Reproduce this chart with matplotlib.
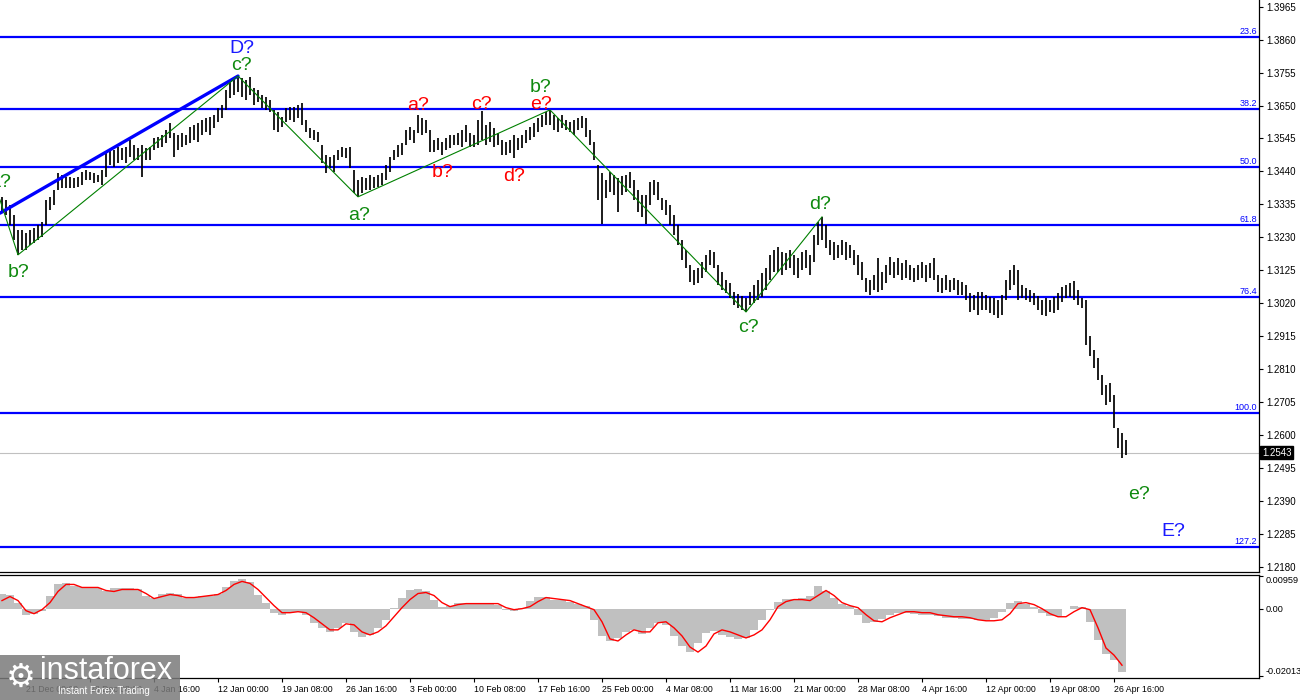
import numpy as np
import matplotlib.pyplot as plt
from matplotlib.patches import Rectangle
from matplotlib.transforms import blended_transform_factory

plt.rcParams['font.family'] = ['Liberation Sans', 'DejaVu Sans']

# H4 bars, highs and lows (one bar per 4 px)
bar_high = [
    1.3359, 1.3349, 1.3333, 1.3301, 1.3253, 1.3253, 1.3244, 1.3253, 1.3260, 1.3269,
    1.3279, 1.3349, 1.3359, 1.3381, 1.3435, 1.3429, 1.3422, 1.3422, 1.3419, 1.3422,
    1.3438, 1.3445, 1.3438, 1.3435, 1.3429, 1.3445, 1.3499, 1.3508, 1.3508, 1.3518,
    1.3515, 1.3518, 1.3540, 1.3524, 1.3515, 1.3524, 1.3515, 1.3518, 1.3547, 1.3550,
    1.3556, 1.3572, 1.3594, 1.3563, 1.3556, 1.3563, 1.3556, 1.3582, 1.3588, 1.3594,
    1.3604, 1.3610, 1.3614, 1.3620, 1.3642, 1.3652, 1.3700, 1.3725, 1.3738, 1.3744,
    1.3738, 1.3731, 1.3741, 1.3706, 1.3700, 1.3684, 1.3677, 1.3668, 1.3636, 1.3629,
    1.3614, 1.3642, 1.3645, 1.3645, 1.3652, 1.3658, 1.3604, 1.3579, 1.3572, 1.3566,
    1.3524, 1.3492, 1.3486, 1.3492, 1.3508, 1.3518, 1.3515, 1.3518, 1.3445, 1.3413,
    1.3422, 1.3419, 1.3429, 1.3422, 1.3429, 1.3435, 1.3460, 1.3486, 1.3508, 1.3524,
    1.3531, 1.3572, 1.3582, 1.3572, 1.3620, 1.3610, 1.3604, 1.3572, 1.3540, 1.3547,
    1.3534, 1.3547, 1.3556, 1.3556, 1.3563, 1.3572, 1.3588, 1.3563, 1.3556, 1.3604,
    1.3632, 1.3588, 1.3598, 1.3579, 1.3563, 1.3540, 1.3534, 1.3540, 1.3556, 1.3547,
    1.3556, 1.3572, 1.3582, 1.3594, 1.3610, 1.3620, 1.3629, 1.3636, 1.3620, 1.3610,
    1.3620, 1.3604, 1.3598, 1.3604, 1.3610, 1.3617, 1.3610, 1.3572, 1.3534, 1.3460,
    1.3435, 1.3413, 1.3438, 1.3429, 1.3419, 1.3425, 1.3429, 1.3438, 1.3413, 1.3381,
    1.3365, 1.3365, 1.3406, 1.3413, 1.3406, 1.3355, 1.3349, 1.3333, 1.3301, 1.3269,
    1.3221, 1.3190, 1.3142, 1.3126, 1.3132, 1.3151, 1.3174, 1.3190, 1.3183, 1.3142,
    1.3119, 1.3094, 1.3084, 1.3056, 1.3049, 1.3043, 1.3036, 1.3056, 1.3078, 1.3094,
    1.3116, 1.3132, 1.3174, 1.3190, 1.3199, 1.3183, 1.3180, 1.3190, 1.3174, 1.3164,
    1.3183, 1.3190, 1.3174, 1.3237, 1.3279, 1.3295, 1.3269, 1.3221, 1.3215, 1.3205,
    1.3221, 1.3215, 1.3205, 1.3190, 1.3174, 1.3151, 1.3100, 1.3094, 1.3110, 1.3164,
    1.3119, 1.3142, 1.3167, 1.3151, 1.3164, 1.3148, 1.3158, 1.3142, 1.3132, 1.3142,
    1.3151, 1.3142, 1.3148, 1.3164, 1.3110, 1.3100, 1.3110, 1.3094, 1.3100, 1.3094,
    1.3088, 1.3078, 1.3052, 1.3046, 1.3056, 1.3056, 1.3046, 1.3040, 1.3036, 1.3030,
    1.3046, 1.3094, 1.3126, 1.3142, 1.3126, 1.3078, 1.3068, 1.3062, 1.3052, 1.3043,
    1.3030, 1.3036, 1.3030, 1.3040, 1.3052, 1.3072, 1.3078, 1.3084, 1.3091, 1.3062,
    1.3036, 1.3030, 1.2915, 1.2871, 1.2845, 1.2791, 1.2759, 1.2766, 1.2727, 1.2622,
    1.2606, 1.2584,
]
bar_low = [
    1.3311, 1.3301, 1.3269, 1.3221, 1.3174, 1.3190, 1.3190, 1.3205, 1.3212, 1.3221,
    1.3231, 1.3269, 1.3317, 1.3333, 1.3381, 1.3387, 1.3387, 1.3387, 1.3387, 1.3390,
    1.3397, 1.3413, 1.3413, 1.3403, 1.3406, 1.3397, 1.3422, 1.3460, 1.3454, 1.3467,
    1.3476, 1.3467, 1.3486, 1.3476, 1.3476, 1.3422, 1.3476, 1.3476, 1.3508, 1.3515,
    1.3518, 1.3531, 1.3547, 1.3486, 1.3508, 1.3518, 1.3524, 1.3531, 1.3540, 1.3534,
    1.3556, 1.3566, 1.3556, 1.3579, 1.3598, 1.3610, 1.3636, 1.3674, 1.3684, 1.3693,
    1.3677, 1.3668, 1.3684, 1.3652, 1.3661, 1.3642, 1.3636, 1.3629, 1.3572, 1.3566,
    1.3582, 1.3598, 1.3604, 1.3598, 1.3610, 1.3588, 1.3566, 1.3547, 1.3540, 1.3534,
    1.3467, 1.3435, 1.3451, 1.3438, 1.3476, 1.3486, 1.3483, 1.3451, 1.3371, 1.3359,
    1.3371, 1.3381, 1.3381, 1.3387, 1.3390, 1.3397, 1.3413, 1.3438, 1.3476, 1.3486,
    1.3492, 1.3524, 1.3540, 1.3531, 1.3563, 1.3556, 1.3563, 1.3502, 1.3502, 1.3508,
    1.3492, 1.3508, 1.3515, 1.3524, 1.3524, 1.3518, 1.3534, 1.3518, 1.3518, 1.3524,
    1.3540, 1.3524, 1.3534, 1.3518, 1.3524, 1.3492, 1.3492, 1.3499, 1.3483, 1.3508,
    1.3515, 1.3531, 1.3540, 1.3550, 1.3566, 1.3582, 1.3588, 1.3588, 1.3572, 1.3566,
    1.3579, 1.3572, 1.3566, 1.3556, 1.3572, 1.3579, 1.3550, 1.3524, 1.3476, 1.3349,
    1.3272, 1.3355, 1.3374, 1.3365, 1.3311, 1.3365, 1.3374, 1.3387, 1.3349, 1.3311,
    1.3295, 1.3272, 1.3333, 1.3365, 1.3349, 1.3317, 1.3301, 1.3269, 1.3237, 1.3205,
    1.3158, 1.3132, 1.3088, 1.3078, 1.3084, 1.3100, 1.3119, 1.3142, 1.3132, 1.3078,
    1.3062, 1.3052, 1.3036, 1.3014, 1.3005, 1.2998, 1.2992, 1.3014, 1.3021, 1.3030,
    1.3040, 1.3062, 1.3094, 1.3119, 1.3119, 1.3110, 1.3126, 1.3132, 1.3110, 1.3100,
    1.3126, 1.3132, 1.3110, 1.3151, 1.3205, 1.3221, 1.3196, 1.3174, 1.3158, 1.3164,
    1.3174, 1.3158, 1.3164, 1.3142, 1.3110, 1.3094, 1.3056, 1.3046, 1.3062, 1.3056,
    1.3062, 1.3084, 1.3110, 1.3100, 1.3110, 1.3094, 1.3100, 1.3094, 1.3088, 1.3094,
    1.3100, 1.3088, 1.3100, 1.3094, 1.3056, 1.3052, 1.3062, 1.3056, 1.3062, 1.3046,
    1.3046, 1.3030, 1.2992, 1.2998, 1.2982, 1.2998, 1.2998, 1.2989, 1.2982, 1.2973,
    1.2982, 1.3030, 1.3062, 1.3078, 1.3030, 1.3036, 1.3030, 1.3024, 1.3014, 1.2998,
    1.2982, 1.2979, 1.2992, 1.2989, 1.2998, 1.3024, 1.3036, 1.3040, 1.3030, 1.3014,
    1.3005, 1.2887, 1.2852, 1.2813, 1.2775, 1.2727, 1.2695, 1.2705, 1.2622, 1.2558,
    1.2527, 1.2536,
]
last_price = 1.2543

# fibo grid
fib_labels = ["23.6", "38.2", "50.0", "61.8", "76.4", "100.0", "127.2"]
fib_prices = [1.3867, 1.3638, 1.3453, 1.3268, 1.3039, 1.2669, 1.2242]

# wave marking (bar index, price)
trend_idx = [-0.5, 59]
trend_px = [1.3307, 1.3744]
wave_idx = [-0.5, 4, 59, 89, 137, 186, 205]
wave_px = [1.3349, 1.3174, 1.3744, 1.3359, 1.3636, 1.2992, 1.3295]

BLUE = '#1a1aff'
GREEN = '#0f8a0f'
RED = '#ff0000'
wave_text = ["D?", "c?", "a?", "b?", "a?", "a?", "b?", "c?", "d?", "e?", "b?",
             "c?", "d?", "e?", "E?"]
wave_text_idx = [60, 59.75, -0.5, 4.25, 89.25, 104, 110.25, 119.75, 128,
                 134.75, 134.75, 186.5, 204.5, 284.25, 292.75]
wave_text_px = [1.3833, 1.3779, 1.3406, 1.3119, 1.3301, 1.3649, 1.3438, 1.3652,
                1.3425, 1.3652, 1.3709, 1.2944, 1.3333, 1.2409, 1.2291]
wave_text_col = [BLUE, GREEN, GREEN, GREEN, GREEN, RED, RED, RED, RED, RED,
                 GREEN, GREEN, GREEN, GREEN, BLUE]

price_ticks = [1.3965, 1.3860, 1.3755, 1.3650, 1.3545, 1.3440, 1.3335, 1.3230,
               1.3125, 1.3020, 1.2915, 1.2810, 1.2705, 1.2600, 1.2495, 1.2390,
               1.2285, 1.2180]

# MACD histogram and signal, one value per 2 bars
macd_hist = [
    0.0045, 0.0042, 0.0018, -0.0018, -0.0015, -0.0006, 0.0039, 0.0072, 0.0075, 0.0066,
    0.0063, 0.0063, 0.0060, 0.0051, 0.0060, 0.0060, 0.0060, 0.0057, 0.0039, 0.0033,
    0.0045, 0.0048, 0.0045, 0.0033, 0.0036, 0.0039, 0.0039, 0.0045, 0.0063, 0.0081,
    0.0087, 0.0078, 0.0042, 0.0018, -0.0012, -0.0018, -0.0009, -0.0009, -0.0018, -0.0042,
    -0.0057, -0.0069, -0.0057, -0.0042, -0.0069, -0.0084, -0.0078, -0.0057, -0.0033, 0.0003,
    0.0033, 0.0054, 0.0057, 0.0051, 0.0027, 0.0006, 0.0009, 0.0018, 0.0018, 0.0018,
    0.0018, 0.0018, 0.0012, -0.0003, -0.0006, 0.0003, 0.0024, 0.0036, 0.0036, 0.0027,
    0.0027, 0.0021, 0.0015, 0.0009, -0.0033, -0.0081, -0.0096, -0.0087, -0.0069, -0.0063,
    -0.0075, -0.0057, -0.0042, -0.0048, -0.0081, -0.0111, -0.0129, -0.0102, -0.0072, -0.0066,
    -0.0078, -0.0084, -0.0090, -0.0087, -0.0063, -0.0033, -0.0003, 0.0021, 0.0030, 0.0030,
    0.0033, 0.0039, 0.0066, 0.0051, 0.0033, 0.0015, 0.0009, -0.0018, -0.0042, -0.0039,
    -0.0030, -0.0018, -0.0012, -0.0012, -0.0015, -0.0018, -0.0018, -0.0021, -0.0027, -0.0027,
    -0.0030, -0.0030, -0.0033, -0.0033, -0.0027, -0.0009, 0.0018, 0.0024, 0.0015, 0.0006,
    -0.0012, -0.0021, -0.0021, 0.0000, 0.0009, 0.0006, -0.0039, -0.0093, -0.0135, -0.0153,
    -0.0189,
]
macd_signal = [
    0.0024, 0.0036, 0.0024, -0.0006, -0.0015, -0.0003, 0.0018, 0.0051, 0.0072, 0.0072,
    0.0063, 0.0063, 0.0063, 0.0054, 0.0051, 0.0057, 0.0057, 0.0057, 0.0045, 0.0030,
    0.0036, 0.0042, 0.0039, 0.0033, 0.0033, 0.0036, 0.0039, 0.0042, 0.0054, 0.0072,
    0.0081, 0.0075, 0.0057, 0.0033, 0.0009, -0.0012, -0.0012, -0.0009, -0.0012, -0.0027,
    -0.0045, -0.0063, -0.0063, -0.0045, -0.0048, -0.0069, -0.0078, -0.0069, -0.0051, -0.0024,
    0.0003, 0.0027, 0.0045, 0.0048, 0.0039, 0.0018, 0.0006, 0.0012, 0.0015, 0.0015,
    0.0015, 0.0015, 0.0015, 0.0003, -0.0003, 0.0000, 0.0006, 0.0021, 0.0033, 0.0030,
    0.0027, 0.0024, 0.0015, 0.0006, -0.0003, -0.0039, -0.0090, -0.0096, -0.0078, -0.0063,
    -0.0069, -0.0069, -0.0042, -0.0039, -0.0057, -0.0081, -0.0114, -0.0129, -0.0111, -0.0075,
    -0.0063, -0.0069, -0.0078, -0.0087, -0.0078, -0.0063, -0.0033, 0.0006, 0.0021, 0.0027,
    0.0027, 0.0024, 0.0039, 0.0054, 0.0039, 0.0018, 0.0009, 0.0003, -0.0018, -0.0036,
    -0.0039, -0.0027, -0.0018, -0.0009, -0.0009, -0.0012, -0.0012, -0.0018, -0.0021, -0.0024,
    -0.0024, -0.0027, -0.0033, -0.0036, -0.0036, -0.0033, -0.0015, 0.0015, 0.0018, 0.0012,
    0.0000, -0.0015, -0.0024, -0.0024, -0.0009, 0.0003, -0.0003, -0.0057, -0.0117, -0.0138,
    -0.0168,
]
macd_ticks = [0.00959, 0.0, -0.02013]
macd_tick_labels = ["0.00959", "0.00", "-0.02013"]

date_labels = ["13 Dec 16:00", "21 Dec 00:00", "28 Dec 08:00", "4 Jan 16:00",
               "12 Jan 00:00", "19 Jan 08:00", "26 Jan 16:00", "3 Feb 00:00",
               "10 Feb 08:00", "17 Feb 16:00", "25 Feb 00:00", "4 Mar 08:00",
               "11 Mar 16:00", "21 Mar 00:00", "28 Mar 08:00", "4 Apr 16:00",
               "12 Apr 00:00", "19 Apr 08:00", "26 Apr 16:00"]

W, H = 1300, 700
fig = plt.figure(figsize=(13, 7), dpi=100)
ax = fig.add_axes([0, 1 - 572 / H, 1259 / W, 572 / H])
ax2 = fig.add_axes([0, 1 - 678 / H, 1259 / W, 103 / H])

x_lim = (-0.5, 314.25)

# ---- price panel
bx = np.arange(len(bar_high))
ax.vlines(bx, bar_low, bar_high, colors='black', linewidth=1.25, zorder=3)

blend = blended_transform_factory(ax.transAxes, ax.transData)
for lab, p in zip(fib_labels, fib_prices):
    ax.axhline(p, color='#0000ff', lw=1.6, zorder=2)
    ax.text(0.9985, p + 0.0004, lab, transform=blend, ha='right', va='bottom',
            fontsize=6.5, color='#0000ff')

ax.axhline(last_price, color='#c0c0c0', lw=0.8, zorder=1)

ax.plot(trend_idx, trend_px, color='#0000ff', lw=2.4, zorder=4, solid_capstyle='round')
ax.plot(wave_idx, wave_px, color='#008000', lw=0.8, zorder=4)

for t, xi, p, c in zip(wave_text, wave_text_idx, wave_text_px, wave_text_col):
    ax.text(xi, p, t, color=c, fontsize=14, ha='center', va='center', zorder=5,
            clip_on=True)

ax.set_xticks([])
ax.yaxis.tick_right()
ax.set_yticks(price_ticks)
ax.set_yticklabels([f"{v:.4f}" for v in price_ticks])
ax.tick_params(axis='y', length=3, width=0.8, labelsize=7, pad=2, colors='black')
ax.set_xlim(*x_lim)
ax.set_ylim(1.21631, 1.39864)
for s in ['top', 'left']:
    ax.spines[s].set_visible(False)
for s in ['right', 'bottom']:
    ax.spines[s].set_linewidth(0.9)

ax.text(1.0025, last_price, f"{last_price:.4f}", transform=blend, ha='left',
        va='center', fontsize=7, color='white', clip_on=False,
        bbox=dict(facecolor='black', edgecolor='black', pad=1.2))

# ---- MACD panel
ix = np.arange(len(macd_hist)) * 2
ax2.bar(ix, macd_hist, width=2, color='#c0c0c0', linewidth=0, zorder=2)
ax2.plot(ix, macd_signal, color='#ff0000', lw=1.0, zorder=3)
ax2.yaxis.tick_right()
ax2.set_yticks(macd_ticks)
ax2.set_yticklabels(macd_tick_labels)
ax2.tick_params(axis='y', length=3, width=0.8, labelsize=6.6, pad=2)
yl = ax2.get_yticklabels()
yl[0].set_va('top')
yl[-1].set_va('bottom')

date_idx = [54 + 16 * (k - 4) for k in range(len(date_labels))]
ax2.set_xticks(date_idx)
ax2.set_xticklabels(date_labels, ha='left')
ax2.tick_params(axis='x', length=3, width=0.8, labelsize=6.3, pad=2)
ax2.set_xlim(*x_lim)
ax2.set_ylim(-0.0206, 0.0100)
ax2.spines['left'].set_visible(False)
for s in ['right', 'bottom', 'top']:
    ax2.spines[s].set_linewidth(0.9)

# ---- watermark
fig.patches.append(Rectangle((0, 0), 180 / W, 45 / H, transform=fig.transFigure,
                             facecolor='#7a7a7a', alpha=0.85, edgecolor='none',
                             zorder=10))
fig.text(21 / W, 1 - 677 / H, "\u2699", color='white', fontsize=24,
         family='DejaVu Sans', ha='center', va='center', zorder=11)
fig.text(40 / W, 1 - 671 / H, "instaforex", color='white', fontsize=22,
         ha='left', va='center', zorder=11)
fig.text(58 / W, 1 - 691 / H, "Instant Forex Trading", color='white', fontsize=7,
         ha='left', va='center', zorder=11)

fig.savefig('out.png', dpi=100)
